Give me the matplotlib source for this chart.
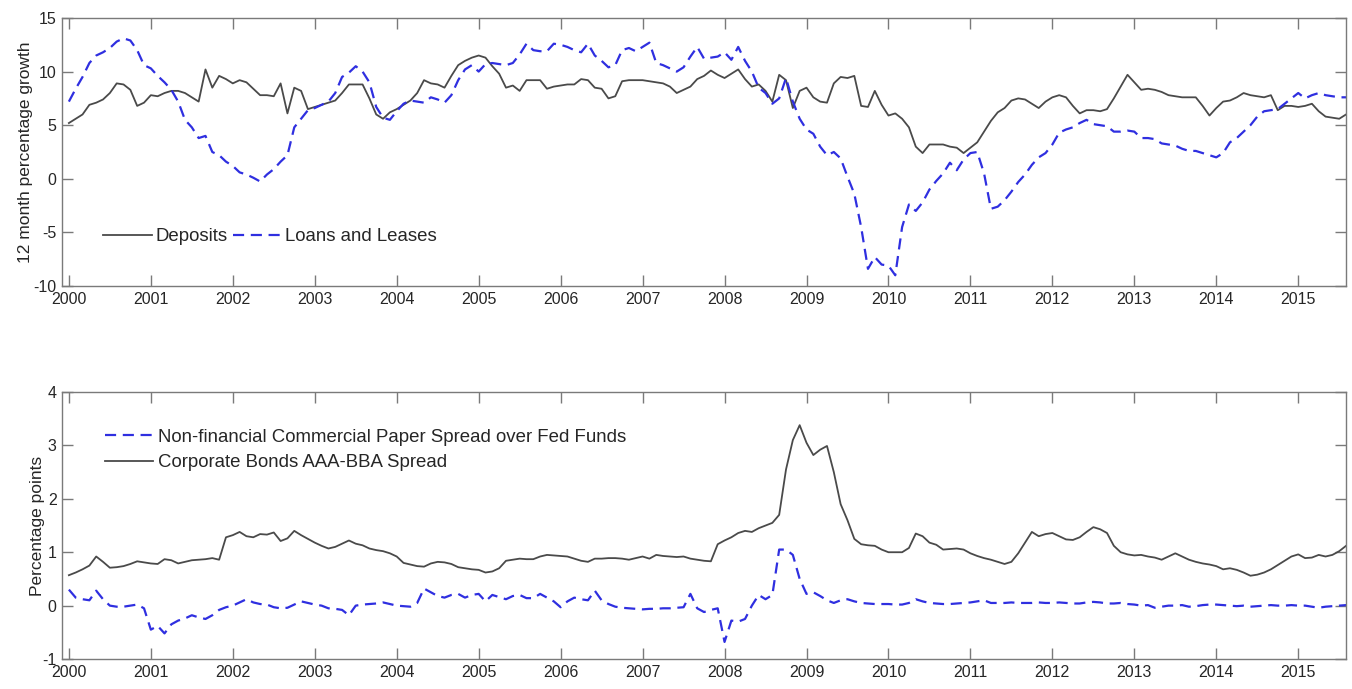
import numpy as np
import matplotlib.pyplot as plt

plt.rcParams['font.family'] = ['Liberation Sans', 'DejaVu Sans']
plt.rcParams['axes.unicode_minus'] = False

# monthly data, Jan 2000 .. Aug 2015
deposits = [
    5.2, 5.6, 6.0, 6.9, 7.1, 7.4, 8.0, 8.9, 8.8, 8.3, 6.8, 7.1,
    7.8, 7.7, 8.0, 8.2, 8.2, 8.0, 7.6, 7.2, 10.2, 8.5, 9.6, 9.3,
    8.9, 9.2, 9.0, 8.4, 7.8, 7.8, 7.7, 8.9, 6.1, 8.5, 8.2, 6.5,
    6.7, 6.9, 7.1, 7.3, 8.0, 8.8, 8.8, 8.8, 7.5, 6.0, 5.6, 6.2,
    6.5, 6.9, 7.3, 8.0, 9.2, 8.9, 8.8, 8.5, 9.6, 10.6, 11.0, 11.3,
    11.5, 11.3, 10.5, 9.8, 8.5, 8.7, 8.2, 9.2, 9.2, 9.2, 8.4, 8.6,
    8.7, 8.8, 8.8, 9.3, 9.2, 8.5, 8.4, 7.5, 7.7, 9.1, 9.2, 9.2,
    9.2, 9.1, 9.0, 8.9, 8.6, 8.0, 8.3, 8.6, 9.3, 9.6, 10.1, 9.7,
    9.4, 9.8, 10.2, 9.3, 8.6, 8.8, 8.2, 7.2, 9.7, 9.2, 6.6, 8.2,
    8.5, 7.6, 7.2, 7.1, 8.9, 9.5, 9.4, 9.6, 6.8, 6.7, 8.2, 6.9,
    5.9, 6.1, 5.6, 4.8, 3.0, 2.4, 3.2, 3.2, 3.2, 3.0, 2.9, 2.4,
    2.9, 3.4, 4.4, 5.4, 6.2, 6.6, 7.3, 7.5, 7.4, 7.0, 6.6, 7.2,
    7.6, 7.8, 7.6, 6.8, 6.1, 6.4, 6.4, 6.3, 6.5, 7.5, 8.6, 9.7,
    9.0, 8.3, 8.4, 8.3, 8.1, 7.8, 7.7, 7.6, 7.6, 7.6, 6.8, 5.9,
    6.6, 7.2, 7.3, 7.6, 8.0, 7.8, 7.7, 7.6, 7.8, 6.4, 6.8, 6.8,
    6.7, 6.8, 7.0, 6.3, 5.8, 5.7, 5.6, 6.0,
]

loans = [
    7.2, 8.4, 9.5, 10.8, 11.5, 11.8, 12.2, 12.8, 13.1, 12.9, 12.0, 10.6,
    10.3, 9.6, 9.0, 8.3, 7.2, 5.5, 4.8, 3.8, 4.0, 2.5, 2.2, 1.6,
    1.2, 0.6, 0.4, 0.1, -0.25, 0.4, 0.9, 1.6, 2.2, 4.8, 5.6, 6.4,
    6.6, 6.9, 7.2, 8.0, 9.5, 9.9, 10.5, 10.0, 9.0, 6.7, 5.7, 5.5,
    6.3, 7.0, 7.3, 7.2, 7.1, 7.6, 7.4, 7.1, 7.8, 9.2, 10.2, 10.6,
    10.0, 10.7, 10.8, 10.7, 10.6, 10.8, 11.6, 12.6, 12.0, 11.9, 11.9, 12.6,
    12.5, 12.3, 12.0, 11.8, 12.6, 11.5, 11.0, 10.4, 10.6, 12.0, 12.2, 11.9,
    12.3, 12.7, 10.8, 10.6, 10.3, 10.0, 10.4, 11.4, 12.3, 11.2, 11.3, 11.4,
    11.8, 11.1, 12.3, 11.0, 10.0, 8.5, 8.0, 7.0, 7.5, 9.4, 7.2, 5.6,
    4.6, 4.2, 3.0, 2.2, 2.5, 1.9, 0.2, -1.4, -4.5, -8.4, -7.3, -8.0,
    -8.1, -9.0, -4.5, -2.4, -3.0, -2.2, -1.0, -0.2, 0.5, 1.5, 0.8, 1.8,
    2.4, 2.5, 0.5, -2.8, -2.6, -2.0, -1.2, -0.3, 0.4, 1.3, 2.0, 2.4,
    3.2, 4.3, 4.6, 4.8, 5.2, 5.5, 5.1, 5.0, 4.9, 4.4, 4.4, 4.5,
    4.4, 3.8, 3.8, 3.7, 3.3, 3.2, 3.1, 2.8, 2.6, 2.6, 2.4, 2.2,
    2.0, 2.4, 3.4, 3.8, 4.4, 5.0, 5.8, 6.3, 6.4, 6.5, 7.0, 7.5,
    8.0, 7.5, 7.8, 8.0, 7.8, 7.7, 7.6, 7.6,
]

cp_spread = [
    0.30, 0.15, 0.12, 0.10, 0.28, 0.12, 0.00, -0.02, -0.02, 0.00, 0.02, -0.05,
    -0.45, -0.38, -0.52, -0.35, -0.28, -0.24, -0.18, -0.22, -0.25, -0.18, -0.08, -0.03,
    0.00, 0.06, 0.12, 0.06, 0.03, 0.02, -0.03, -0.05, -0.04, 0.02, 0.08, 0.05,
    0.02, 0.00, -0.05, -0.06, -0.08, -0.18, 0.00, 0.02, 0.03, 0.04, 0.06, 0.03,
    0.00, -0.01, -0.02, 0.05, 0.32, 0.25, 0.18, 0.15, 0.20, 0.22, 0.15, 0.20,
    0.22, 0.08, 0.20, 0.16, 0.12, 0.18, 0.20, 0.14, 0.14, 0.22, 0.15, 0.08,
    -0.03, 0.08, 0.15, 0.12, 0.10, 0.28, 0.10, 0.03, -0.02, -0.04, -0.05, -0.06,
    -0.07, -0.06, -0.06, -0.05, -0.05, -0.04, -0.03, 0.22, -0.05, -0.12, -0.08, -0.05,
    -0.68, -0.28, -0.30, -0.25, 0.00, 0.20, 0.12, 0.20, 1.05, 1.05, 0.95, 0.50,
    0.22, 0.25, 0.18, 0.10, 0.05, 0.10, 0.12, 0.08, 0.05, 0.04, 0.03, 0.03,
    0.03, 0.02, 0.02, 0.05, 0.12, 0.08, 0.05, 0.04, 0.03, 0.03, 0.04, 0.05,
    0.06, 0.08, 0.10, 0.05, 0.05, 0.05, 0.06, 0.05, 0.05, 0.05, 0.06, 0.05,
    0.05, 0.06, 0.05, 0.04, 0.04, 0.06, 0.07, 0.06, 0.04, 0.04, 0.05, 0.03,
    0.02, 0.00, 0.01, -0.04, -0.02, 0.00, 0.00, 0.01, -0.02, -0.01, 0.01, 0.02,
    0.02, 0.01, 0.00, -0.01, 0.00, -0.02, -0.01, 0.00, 0.01, 0.00, 0.00, 0.01,
    0.00, 0.00, -0.02, -0.04, -0.02, -0.01, 0.00, 0.01,
]

corp_bonds = [
    0.57, 0.62, 0.68, 0.75, 0.92, 0.82, 0.71, 0.72, 0.74, 0.78, 0.83, 0.81,
    0.79, 0.78, 0.87, 0.85, 0.79, 0.82, 0.85, 0.86, 0.87, 0.89, 0.86, 1.28,
    1.32, 1.38, 1.30, 1.28, 1.34, 1.33, 1.37, 1.21, 1.26, 1.40, 1.32, 1.25,
    1.18, 1.12, 1.07, 1.10, 1.16, 1.22, 1.16, 1.13, 1.07, 1.04, 1.02, 0.98,
    0.92, 0.80, 0.77, 0.74, 0.73, 0.79, 0.82, 0.81, 0.78, 0.72, 0.70, 0.68,
    0.67, 0.62, 0.64, 0.70, 0.84, 0.86, 0.88, 0.87, 0.87, 0.92, 0.95, 0.94,
    0.93, 0.92, 0.88, 0.84, 0.82, 0.88, 0.88, 0.89, 0.89, 0.88, 0.86, 0.89,
    0.92, 0.88, 0.95, 0.93, 0.92, 0.91, 0.92, 0.88, 0.86, 0.84, 0.83, 1.15,
    1.22, 1.28, 1.36, 1.40, 1.38, 1.45, 1.50, 1.55, 1.70, 2.55, 3.10, 3.38,
    3.05, 2.82, 2.92, 2.99, 2.50, 1.90, 1.60, 1.25, 1.15, 1.13, 1.12, 1.05,
    1.00, 1.00, 1.00, 1.08, 1.35, 1.30, 1.18, 1.14, 1.05, 1.06, 1.07, 1.05,
    0.98, 0.93, 0.89, 0.86, 0.82, 0.78, 0.82, 0.98, 1.18, 1.38, 1.30, 1.34,
    1.36, 1.30, 1.24, 1.23, 1.28, 1.38, 1.47, 1.43, 1.36, 1.12, 1.00, 0.96,
    0.94, 0.95, 0.92, 0.90, 0.86, 0.92, 0.98, 0.92, 0.86, 0.82, 0.79, 0.77,
    0.74, 0.68, 0.70, 0.67, 0.62, 0.56, 0.58, 0.62, 0.68, 0.76, 0.84, 0.92,
    0.96, 0.89, 0.90, 0.95, 0.92, 0.95, 1.02, 1.12,
]

years = list(range(2000, 2016))
t = 2000 + np.arange(len(deposits)) / 12.0

gray = '#4a4a4a'
blue = '#2f2fe0'
spine_col = '#7a7a7a'
txt_col = '#262626'

fig = plt.figure(figsize=(13.52, 6.89), dpi=100)
ax1 = fig.add_axes([0.0459, 0.5849, 0.9497, 0.389])
ax2 = fig.add_axes([0.0459, 0.0435, 0.9497, 0.3875])


def style(ax):
    ax.set_xlim(2000 - 1 / 12, 2015 + 7 / 12)
    ax.set_xticks(years)
    ax.set_xticklabels([str(y) for y in years])
    ax.tick_params(direction='in', length=8, width=1, color=spine_col,
                   top=True, right=True, labelsize=11.5, labelcolor=txt_col, pad=4)
    for s in ax.spines.values():
        s.set_color(spine_col)
        s.set_linewidth(1.0)


l1, = ax1.plot(t, deposits, color=gray, lw=1.3, label='Deposits')
l2, = ax1.plot(t, loans, color=blue, lw=1.6, dashes=(5, 3), label='Loans and Leases')
ax1.set_ylim(-10, 15)
ax1.set_yticks([-10, -5, 0, 5, 10, 15])
style(ax1)
ax1.set_ylabel('12 month percentage growth', fontsize=12.5, color=txt_col, labelpad=0)
ax1.legend(handles=[l1, l2], ncol=2, frameon=False, loc='center left',
           bbox_to_anchor=(0.032, 0.183), borderpad=0, borderaxespad=0,
           handlelength=2.6, handletextpad=0.2, columnspacing=0.3,
           fontsize=13.4, labelcolor=txt_col)

l3, = ax2.plot(t, corp_bonds, color=gray, lw=1.3, label='Corporate Bonds AAA-BBA Spread')
l4, = ax2.plot(t, cp_spread, color=blue, lw=1.6, dashes=(5, 3),
               label='Non-financial Commercial Paper Spread over Fed Funds')
ax2.set_ylim(-1, 4)
ax2.set_yticks([-1, 0, 1, 2, 3, 4])
style(ax2)
ax2.set_ylabel('Percentage points', fontsize=12.5, color=txt_col, labelpad=-2)
ax2.legend(handles=[l4, l3], frameon=False, loc='center left',
           bbox_to_anchor=(0.0335, 0.783), borderpad=0, borderaxespad=0,
           handlelength=2.6, handletextpad=0.25, labelspacing=0.45,
           fontsize=13.4, labelcolor=txt_col)

fig.savefig('out.png', dpi=100)
